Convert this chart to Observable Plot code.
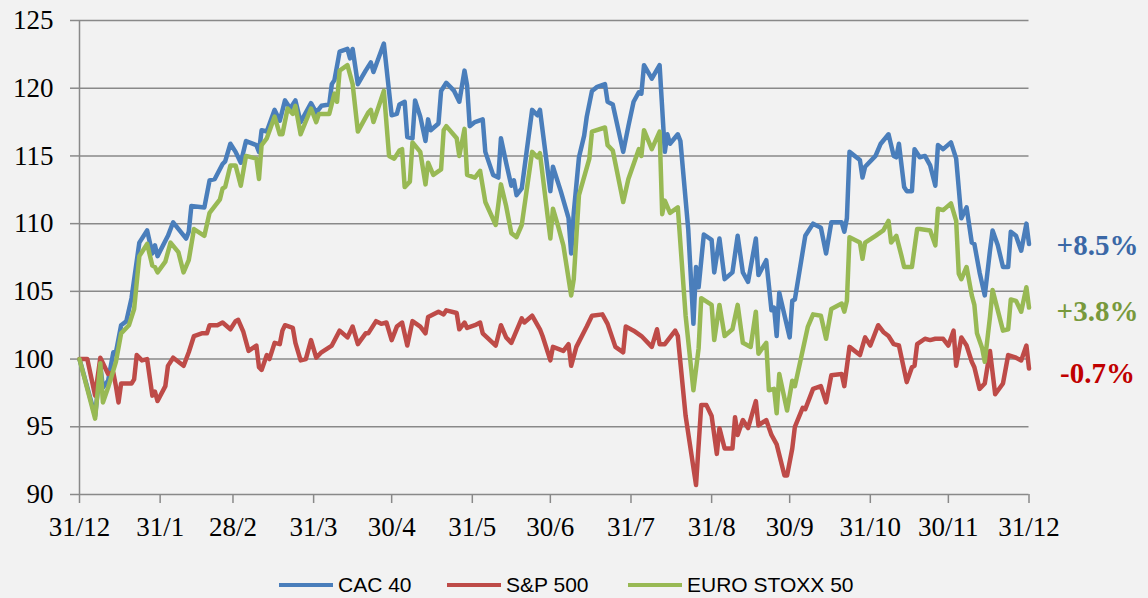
<!DOCTYPE html>
<html>
<head>
<meta charset="utf-8">
<script src="https://cdn.jsdelivr.net/npm/d3@7"></script>
<script src="https://cdn.jsdelivr.net/npm/@observablehq/plot@0.6"></script>
<style>
html, body { margin: 0; padding: 0; background: #F2F2F2; }
#chart { width: 1148px; height: 598px; position: relative; overflow: hidden; background: #F2F2F2; }
#legend { position: absolute; left: 0; top: 572px; width: 1148px; height: 26px; font-family: "Liberation Sans", Arial, sans-serif; font-size: 21px; color: #000; }
.item { position: absolute; top: 0; height: 26px; display: flex; align-items: center; white-space: nowrap; }
.swatch { width: 54px; height: 4px; margin-right: 5px; }
</style>
</head>
<body>
<div id="chart"></div>
<script>
// ---- data ----
const seriesNames = ["CAC 40", "S&P 500", "EURO STOXX 50"];
const seriesColors = ["#4A7EBB", "#BE4B48", "#98B954"];
const endLabels = ["+8.5%", "-0.7%", "+3.8%"];
const endLabelColors = ["#3B68A6", "#C00000", "#78993C"];
const yTicks = [90, 95, 100, 105, 110, 115, 120, 125];
const xTickDates = ["2014-12-31", "2015-01-31", "2015-02-28", "2015-03-31", "2015-04-30", "2015-05-31",
  "2015-06-30", "2015-07-31", "2015-08-31", "2015-09-30", "2015-10-31", "2015-11-30", "2015-12-31"];

// days since 31/12/2014, rebased index values (31/12/2014 = 100)
const cacDays = [0,6,8,9,11,13,14,16,18,20,23,26,28,29,30,34,36,41,42,43,48,50,52,55,56,58,60,62,64,68,69,70,72,75,77,79,81,83,85,89,91,93,96,97,98,100,103,104,105,107,110,112,113,117,120,122,123,125,126,128,129,131,133,134,135,138,139,141,144,146,148,149,150,152,155,156,159,161,162,164,166,167,168,170,174,176,177,181,182,185,188,189,190,192,194,195,197,199,202,203,205,209,211,213,215,216,217,220,223,225,226,227,230,231,234,236,237,238,240,243,244,246,248,251,253,255,257,260,261,264,266,267,268,269,273,274,275,279,282,285,287,289,293,294,295,296,300,301,302,306,308,311,313,314,315,317,318,320,321,323,325,327,329,330,332,335,337,339,341,343,344,346,348,350,351,353,355,357,358,360,362,364,365];
const cacValues = [100.0,95.8,99.5,97.9,98.4,100.5,100.5,102.5,102.8,104.5,108.6,109.5,107.8,108.4,107.6,109.1,110.1,108.9,109.4,111.3,111.2,113.2,113.3,114.4,114.6,115.9,115.3,114.5,116.1,115.8,115.3,116.9,116.8,118.4,117.6,119.1,118.5,119.1,117.5,118.9,118.2,118.7,118.8,120.3,120.6,122.7,122.9,122.2,122.9,120.3,121.3,121.9,121.2,123.3,118.0,118.1,118.8,119.0,116.4,116.3,119.1,117.9,116.1,117.7,116.9,117.4,119.8,120.4,119.8,119.0,121.3,120.2,117.2,117.5,117.7,115.3,113.6,113.4,116.3,114.5,112.8,113.2,112.1,112.6,118.4,118.0,118.4,112.4,114.2,112.4,110.4,107.8,110.8,114.9,116.5,117.9,119.8,120.1,120.3,119.0,118.8,115.3,117.2,119.0,119.7,119.6,121.7,120.7,121.7,115.3,116.6,115.9,116.6,116.1,109.6,102.6,106.8,105.3,109.2,108.8,106.4,108.9,105.9,106.4,109.1,106.4,105.7,108.9,106.2,107.3,103.6,103.8,101.7,104.9,101.6,104.3,104.4,109.1,110.0,109.7,107.8,110.1,110.1,109.4,110.4,115.3,114.7,113.4,114.2,115.0,115.9,116.6,115.0,114.9,115.9,112.7,112.4,112.4,115.5,114.9,115.0,114.3,112.8,115.8,115.5,116.0,114.8,110.4,111.2,108.6,108.5,106.4,104.7,108.0,109.5,108.4,106.8,106.8,109.4,109.1,108.0,110.0,108.5];

const spDays = [0,3,6,8,11,13,14,15,16,20,21,22,24,26,28,29,30,33,34,36,40,42,44,47,49,50,53,55,58,60,61,63,65,68,69,70,72,73,75,77,78,79,82,83,85,87,89,91,93,97,100,103,105,107,110,111,114,116,118,120,122,124,126,128,131,133,134,138,140,141,145,146,148,149,152,154,155,160,162,164,166,168,170,171,174,177,178,181,182,186,188,189,191,195,197,201,203,206,209,210,213,216,220,222,223,225,229,230,233,237,239,241,243,245,246,248,251,252,253,255,257,260,261,264,266,268,271,272,274,275,278,279,282,285,287,289,293,294,296,300,302,304,307,309,311,313,315,318,320,321,322,325,327,329,332,334,336,337,339,341,343,344,346,348,350,352,355,357,360,362,364,365];
const spValues = [100.0,100.0,97.3,100.1,98.9,99.0,98.0,96.8,98.2,98.2,98.5,100.3,99.9,100.0,97.3,97.6,96.9,98.0,99.5,100.1,99.5,100.5,101.7,101.9,101.9,102.5,102.5,102.7,102.2,102.8,102.9,102.0,100.6,101.0,99.4,99.2,100.3,100.0,101.2,101.1,102.1,102.5,102.3,101.2,99.9,100.0,101.4,100.1,100.5,101.0,102.1,101.6,102.4,101.1,101.9,101.9,102.8,102.6,102.7,101.4,102.4,102.7,101.0,102.8,102.4,101.9,103.1,103.5,103.3,103.6,103.4,102.2,102.7,102.3,102.5,102.7,101.9,101.0,102.5,101.6,101.2,102.1,103.0,102.7,103.2,102.2,101.7,99.9,100.9,100.6,101.1,99.5,100.9,102.4,103.2,103.3,102.6,100.9,100.5,102.4,102.1,101.7,100.9,102.2,101.1,101.1,102.1,101.7,95.8,90.7,96.6,96.6,95.8,93.0,94.9,93.4,93.4,95.7,94.4,95.5,94.9,96.9,95.1,95.5,94.4,93.7,91.4,91.4,93.4,95.0,96.4,96.3,97.8,98.0,96.8,98.8,98.9,98.0,100.9,100.3,101.6,101.0,102.5,102.0,101.7,101.1,101.0,98.3,99.4,99.5,101.1,101.5,101.4,101.5,101.5,101.0,102.1,99.5,101.6,101.0,99.8,99.4,97.8,98.2,100.6,97.4,98.2,100.3,100.1,99.9,101.0,99.3];

const sx5eDays = [0,6,8,9,11,14,16,19,21,23,26,28,29,30,33,35,38,40,42,44,48,50,54,55,56,58,60,62,64,68,69,70,72,75,77,78,80,82,83,85,89,91,92,96,98,99,100,103,105,107,111,112,113,117,119,121,123,124,125,127,128,131,133,134,136,139,140,141,145,146,148,149,152,154,156,160,162,164,166,168,170,174,176,177,181,182,184,186,189,190,192,196,197,202,203,205,209,211,215,216,217,220,223,224,225,227,230,233,236,238,239,243,244,246,248,251,253,255,258,260,261,264,265,267,268,269,272,274,275,280,282,285,287,289,293,294,295,296,300,301,302,306,309,311,312,314,316,317,320,322,323,327,329,330,332,335,337,338,339,341,343,344,345,347,348,350,351,353,355,357,358,360,362,364,365];
const sx5eValues = [100.0,95.6,99.7,96.8,97.9,99.8,101.9,102.5,103.7,107.6,108.5,106.9,106.8,106.4,107.2,108.6,107.9,106.4,107.3,109.6,109.1,110.8,111.8,112.6,112.7,114.3,114.3,112.8,115.0,114.8,113.3,115.8,116.3,117.9,116.6,116.6,118.5,118.1,118.7,116.6,118.5,117.5,118.1,118.1,119.6,119.0,121.3,121.7,120.3,116.8,118.2,118.4,117.5,119.8,115.0,114.8,115.4,115.5,112.7,113.1,116.0,115.3,112.9,114.5,113.6,114.0,116.9,117.2,116.3,115.0,117.0,113.6,113.4,113.9,111.6,109.9,112.9,111.3,109.3,109.0,109.9,115.3,114.9,115.2,108.9,111.1,109.8,108.4,104.7,105.9,112.1,114.8,116.8,117.1,115.8,115.4,111.6,113.3,115.5,115.0,116.9,115.5,116.8,110.7,111.7,110.8,111.2,103.2,97.7,100.8,104.5,104.0,101.4,104.0,101.7,102.2,104.0,101.2,100.9,103.5,100.4,101.2,97.7,97.8,96.0,98.9,96.2,98.4,98.0,102.4,103.3,103.2,101.5,103.7,104.1,103.5,104.3,109.0,108.6,107.4,108.6,109.1,109.5,110.2,108.6,109.1,107.6,106.8,106.8,109.6,109.6,109.5,108.4,111.1,111.0,111.5,110.2,106.3,105.9,106.8,104.7,104.0,101.9,100.8,99.8,103.1,105.1,103.6,102.1,102.2,104.4,104.3,103.5,105.3,103.8];

// ---- build ----
const toDate = d => new Date(Date.UTC(2014, 11, 31 + d));
const build = (days, values) => days.map((d, i) => ({date: toDate(d), value: values[i]}));
const seriesData = [build(cacDays, cacValues), build(spDays, spValues), build(sx5eDays, sx5eValues)];
const xTicks = xTickDates.map(s => new Date(s + "T00:00:00Z"));
const labelDy = [2, 5, 4];

const grid = "#898989";
const marks = [
  Plot.gridY({ticks: yTicks, stroke: grid, strokeOpacity: 1, strokeWidth: 1.5}),
  Plot.ruleX([xTicks[0]], {stroke: grid, strokeWidth: 1.5}),
  Plot.axisY({ticks: yTicks, tickSize: 9, tickPadding: 17, stroke: grid, strokeWidth: 1.5, fill: "#000",
    fontFamily: "Liberation Serif", fontSize: 27, label: null}),
  Plot.axisX({ticks: xTicks, tickSize: 9, tickPadding: 13, stroke: grid, strokeWidth: 1.5, fill: "#000",
    tickFormat: d3.utcFormat("%-d/%-m"), fontFamily: "Liberation Serif", fontSize: 27, label: null})
];
seriesData.forEach((data, i) => {
  marks.push(Plot.line(data, {x: "date", y: "value", stroke: seriesColors[i], strokeWidth: 4.5,
    strokeLinejoin: "round", strokeLinecap: "round"}));
});
seriesData.forEach((data, i) => {
  marks.push(Plot.text([data[data.length - 1]], {x: "date", y: "value", text: () => endLabels[i],
    fill: endLabelColors[i], dx: 68.5, dy: labelDy[i], textAnchor: "middle",
    fontFamily: "Liberation Serif", fontWeight: "bold", fontSize: 29}));
});

const chart = Plot.plot({
  width: 1148,
  height: 540,
  marginLeft: 79,
  marginRight: 119.5,
  marginTop: 20,
  marginBottom: 46,
  style: {background: "#F2F2F2", color: "#000", overflow: "visible", maxWidth: "none"},
  x: {type: "utc", domain: [xTicks[0], xTicks[xTicks.length - 1]]},
  y: {domain: [90, 125]},
  marks
});
const root = document.getElementById("chart");
root.appendChild(chart);

// legend
const legendX = [279, 447, 628];
const legend = document.createElement("div");
legend.id = "legend";
seriesNames.forEach((name, i) => {
  const item = document.createElement("div");
  item.className = "item";
  item.style.left = legendX[i] + "px";
  const sw = document.createElement("span");
  sw.className = "swatch";
  sw.style.background = seriesColors[i];
  const tx = document.createElement("span");
  tx.textContent = name;
  item.appendChild(sw);
  item.appendChild(tx);
  legend.appendChild(item);
});
root.appendChild(legend);
</script>
</body>
</html>
